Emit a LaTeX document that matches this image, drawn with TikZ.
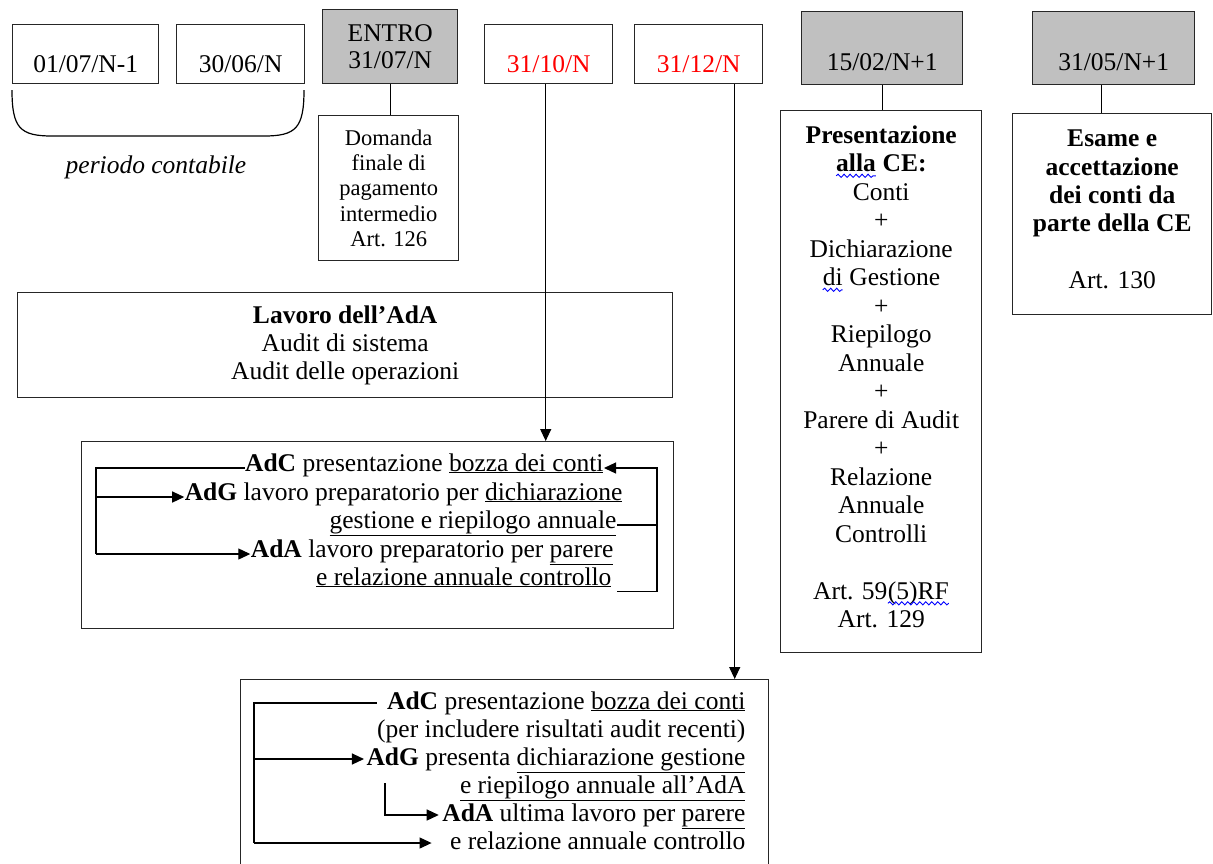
\documentclass[tikz,border=0pt]{standalone}
\usepackage{fontspec}
\setmainfont{Liberation Serif}
\usetikzlibrary{arrows.meta}
\usetikzlibrary{decorations.pathmorphing}

\definecolor{boxgray}{HTML}{C0C0C0}
\newcommand{\spellwave}[1]{\tikz[baseline=(sw.base), x=1pt, y=1pt]{\node[inner sep=0pt, outer sep=0pt, anchor=base, draw=none, fill=none, minimum width=0pt, minimum height=0pt] (sw) {#1};
    \draw[blue, line width=0.9pt, decorate, decoration={snake, amplitude=1.6pt, segment length=6pt}] ([yshift=-4pt]sw.base west) -- ([yshift=-4pt]sw.base east);}}

\begin{document}
\begin{tikzpicture}[x=1pt, y=-1pt, line width=1.2pt,
        every node/.style={font=\fontsize{25.5}{27.7}\selectfont},
        box/.style={draw=black!85, line width=1.4pt, inner sep=0pt, anchor=north west},
        datebox/.style={box, text height=48pt, text depth=11pt},
        reddate/.style={datebox, text=red},
        graydate/.style={box, fill=boxgray, text height=59pt, text depth=14pt},
        txt/.style={inner sep=0pt, text height=12pt, text depth=6pt, anchor=east},
        txtb/.style={inner sep=0pt, text height=14pt, text depth=2pt, anchor=east},
        arr/.style={-{Triangle[length=12pt,width=11pt]}}]

        \useasboundingbox (0,0) rectangle (1213,863);
        \clip (0,0) rectangle (1213,863);

        % date boxes
        \node[datebox, minimum width=146pt] (d1) at (12,24) {01/07/N-1};
        \node[datebox, minimum width=128pt] (d2) at (176,24) {30/06/N};
        \node[box, fill=boxgray, minimum width=135pt, minimum height=74pt, align=center] (d3) at (322,9) {ENTRO\\31/07/N};
        \node[reddate, minimum width=128pt] (d4) at (484,24) {31/10/N};
        \node[reddate, minimum width=128pt] (d5) at (634,24) {31/12/N};
        \node[graydate, minimum width=161pt] (d6) at (801,11) {15/02/N+1};
        \node[graydate, minimum width=162pt] (d7) at (1032,11) {31/05/N+1};

        % periodo contabile
        \draw (12,90) .. controls (12,128) and (20,136) .. (52,136) -- (264,136) .. controls (296,136) and (304,128) .. (304,90);
        \node[font=\fontsize{25.5}{27.7}\selectfont\itshape] (per) at (156,167) {periodo contabile};

        % boxes
        \node[box, minimum width=140pt, minimum height=145pt, align=center, font=\fontsize{22.5}{25.3}\selectfont] (dom) at (318,115) {Domanda\\finale di\\pagamento\\intermedio\\Art. 126};
        \node[box, minimum width=655pt, minimum height=105pt, align=center] (lav) at (17,292) {\textbf{Lavoro dell'AdA}\\Audit di sistema\\Audit delle operazioni};
        \node[box, minimum width=592pt, minimum height=187pt] (fr1) at (81,441) {};
        \node[box, minimum width=528pt, minimum height=200pt] (fr2) at (240,679) {};
        \node[box, minimum width=201pt, minimum height=542pt, align=center, font=\fontsize{25.5}{28.5}\selectfont] (pres) at (780,110)
            {\textbf{Presentazione}\\\textbf{\spellwave{alla} CE:}\\Conti\\+\\Dichiarazione\\\spellwave{di} Gestione\\+\\Riepilogo\\Annuale\\+\\Parere di Audit\\+\\Relazione\\Annuale\\Controlli\\\mbox{}\\Art. 59\spellwave{(5)RF}\\Art. 129\rule[-10pt]{0pt}{0pt}};
        \node[box, minimum width=199pt, minimum height=201pt, align=center, font=\fontsize{25.5}{28.3}\selectfont] (esame) at (1012,113)
            {\textbf{Esame e}\\\textbf{accettazione}\\\textbf{dei conti da}\\\textbf{parte della CE}\\\mbox{}\\Art. 130\rule[-10pt]{0pt}{0pt}};

        % first group
        \node[txt] (a1) at (604,468) {\textbf{AdC} presentazione \underline{bozza dei conti}};
        \node[txt] (a2) at (623,497) {\textbf{AdG} lavoro preparatorio per \underline{dichiarazione}};
        \node[txt] (a3) at (617,525) {\underline{gestione e riepilogo annuale}};
        \node[txt] (a4) at (614,554) {\textbf{AdA} lavoro preparatorio per \underline{parere}};
        \node[txt] (a5) at (612,582) {\underline{e relazione annuale controllo}};

        % second group
        \node[txtb] (b1) at (746,703) {\textbf{AdC} presentazione \underline{bozza dei conti}};
        \node[txtb] (b2) at (746,731) {(per includere risultati audit recenti)};
        \node[txtb] (b3) at (746,759) {\textbf{AdG} presenta \underline{dichiarazione gestione}};
        \node[txtb] (b4) at (746,787) {\underline{e riepilogo annuale all'AdA}};
        \node[txtb] (b5) at (746,815) {\textbf{AdA} ultima lavoro per \underline{parere}};
        \node[txtb] (b6) at (746,843) {e relazione annuale controllo};

        \coordinate (lc1) at (96,468);
        \coordinate (rc1) at (657,468);
        \coordinate (lc2) at (254,703);
        \coordinate (ic2) at (385,783);

        \draw (d3.south) -- (d3.south |- dom.north);
        \draw (d6.south) -- (d6.south |- pres.north);
        \draw ([xshift=-12pt]d7.south) -- ([xshift=-12pt]d7.south |- esame.north);
        \draw[arr] ([xshift=-3pt]d4.south) -- ([xshift=-3pt]d4.south |- fr1.north);
        \draw[arr] ([xshift=36pt]d5.south) -- ([xshift=36pt]d5.south |- fr2.north);

        \draw (a1.west) -- (lc1) -- (lc1 |- a4.west);
        \draw[arr] (lc1 |- a2.west) -- (a2.west);
        \draw[arr] (lc1 |- a4.west) -- (a4.west);
        \draw[arr] ([xshift=5pt]a5.south east) -| (rc1) -- (a1.east);
        \draw (a3.east) -- (a3.east -| rc1);

        \draw ([xshift=-10pt]b1.west) -- (lc2) -- (lc2 |- b6.west);
        \draw[arr] (lc2 |- b3.west) -- ([xshift=-2pt]b3.west);
        \draw[arr] (lc2 |- b6.west) -- ([xshift=-18pt]b6.west);
        \draw[arr] (ic2) |- ([xshift=-3pt]b5.west);

\end{tikzpicture}
\end{document}
